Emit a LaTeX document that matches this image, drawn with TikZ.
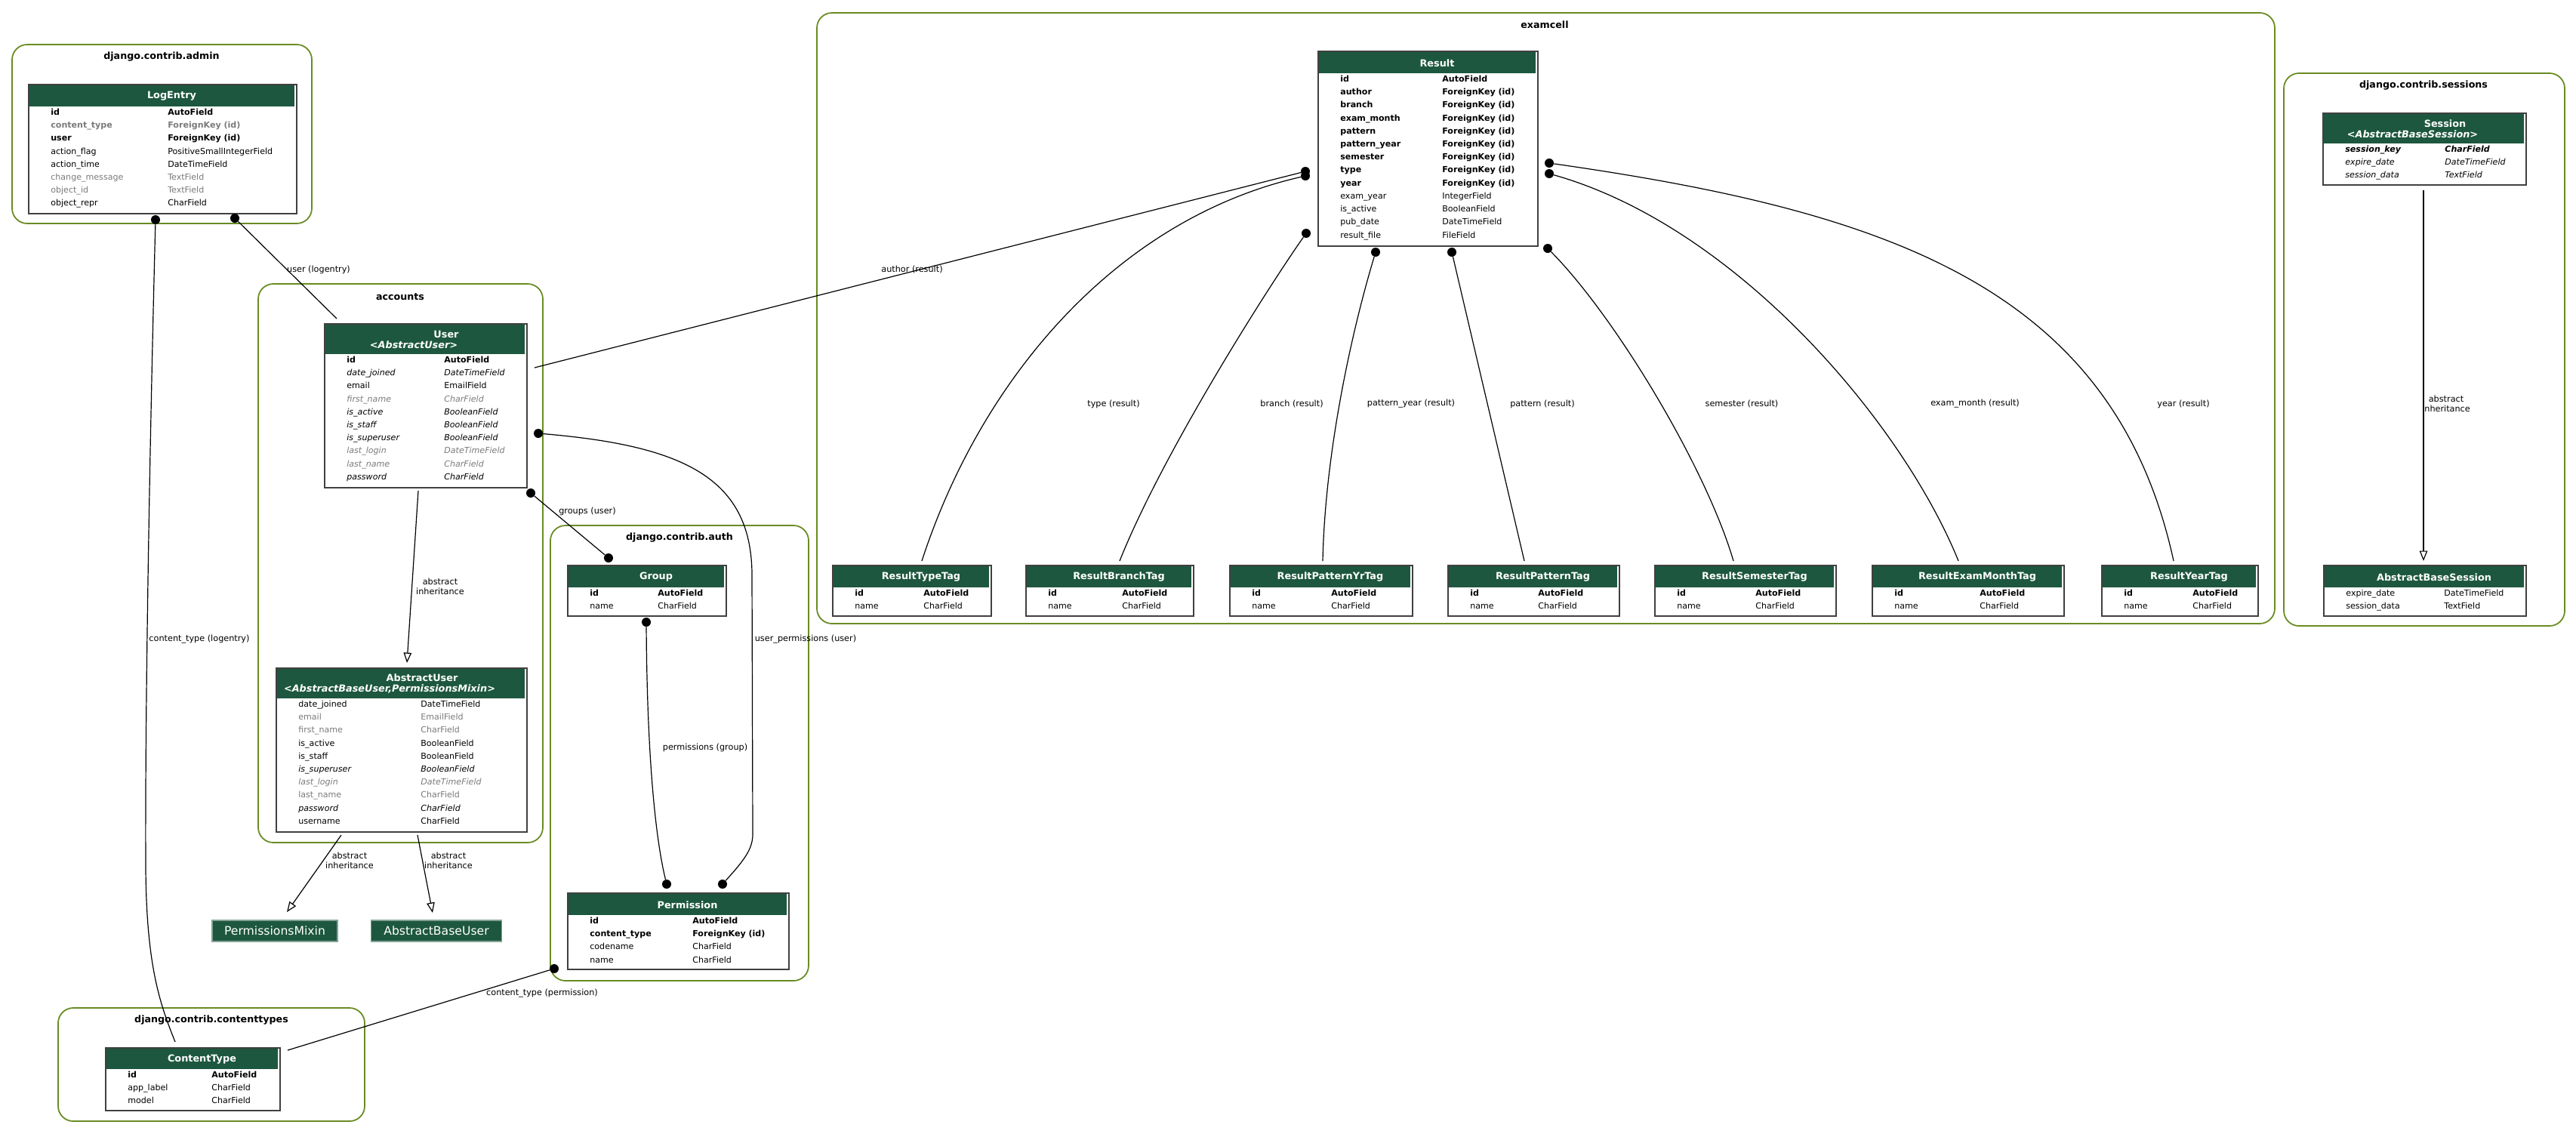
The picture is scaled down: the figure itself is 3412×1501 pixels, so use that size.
\documentclass[tikz,border=0pt]{standalone}
\usepackage{fontspec}
\setmainfont{DejaVu Sans}[BoldFont={DejaVu Sans Bold},ItalicFont={DejaVu Sans Oblique},BoldItalicFont={DejaVu Sans Bold Oblique}]
\usepackage{xcolor}
\usepackage{tikz}
\usetikzlibrary{arrows.meta, positioning}
\definecolor{hdrgreen}{RGB}{29,87,63}
\definecolor{clustergreen}{RGB}{105,139,34}
\definecolor{fldgray}{RGB}{123,123,123}

% field rows: bold, normal, italic, gray, gray italic, gray bold, bold italic
\newcommand{\fB}[2]{\textbf{#1} & \textbf{#2}\\}
\newcommand{\fN}[2]{#1 & #2\\}
\newcommand{\fI}[2]{\textit{#1} & \textit{#2}\\}
\newcommand{\fG}[2]{\textcolor{fldgray}{#1} & \textcolor{fldgray}{#2}\\}
\newcommand{\fGI}[2]{\textcolor{fldgray}{\textit{#1}} & \textcolor{fldgray}{\textit{#2}}\\}
\newcommand{\fGB}[2]{\textcolor{fldgray}{\textbf{#1}} & \textcolor{fldgray}{\textbf{#2}}\\}
\newcommand{\fBI}[2]{\textbf{\textit{#1}} & \textbf{\textit{#2}}\\}

% model table: name, x, y, width, header height, rows, type column offset, header, rows
\newcommand{\model}[9]{%
  \node[mframe, anchor=north west, minimum width=#4*0.2mm, minimum height={(#5+#6*17.35+2)*0.2mm}] (#1) at (#2,#3) {};
  \node[mhead, anchor=north, minimum width={(#4-4)*0.2mm}, minimum height={(#5-2)*0.2mm}] (#1-h) at ({#2+#4/2},{#3+2}) {#8};
  \node[mfields, anchor=north west] (#1-f) at ({#2+30},{#3+#5-1}) {\begin{tabular}{@{}p{\dimexpr 0.2mm*(#7-30)\relax}@{}l@{}}#9\end{tabular}};
}

\begin{document}
\begin{tikzpicture}[
  x=0.2mm, y=-0.2mm,
  cluster/.style={draw=clustergreen, line width=0.35mm, rounded corners=4mm},
  ctitle/.style={font=\fontsize{7.2}{8}\selectfont\bfseries, inner sep=0},
  mframe/.style={rectangle, draw=black!75, line width=0.4mm, fill=white, inner sep=0},
  mhead/.style={rectangle, fill=hdrgreen, text=white, align=center, inner sep=0, font=\fontsize{7.3}{7.9}\selectfont\bfseries},
  mfields/.style={inner sep=0, font=\fontsize{6.3}{9.8}\selectfont},
  basebox/.style={rectangle, fill=hdrgreen, draw=hdrgreen!55, line width=0.25mm, text=white, inner sep=0, minimum height=5.6mm, font=\fontsize{8.9}{10}\selectfont},
  fkdot/.style={circle, fill=black, inner sep=0, minimum size=2.4mm},
  rel/.style={line width=0.24mm},
  inh/.style={line width=0.24mm, -{Triangle[open, length=2.7mm, width=2.1mm]}},
  elbl/.style={font=\fontsize{6.4}{7.4}\selectfont, align=center, inner sep=0}
]
\fill[white] (0,0) rectangle (3412,1501);
\useasboundingbox (0,0) rectangle (3412,1501);

% clusters
\draw[cluster] (16,59) rectangle (413,296);
\node[ctitle] (t-admin) at (214,75) {django.contrib.admin};
\draw[cluster] (342,376) rectangle (719,1116);
\node[ctitle] (t-accounts) at (530,393) {accounts};
\draw[cluster] (729,696) rectangle (1071,1299);
\node[ctitle] (t-auth) at (900,712) {django.contrib.auth};
\draw[cluster] (77,1335) rectangle (483,1485);
\node[ctitle] (t-ctypes) at (280,1351) {django.contrib.contenttypes};
\draw[cluster] (1082,17) rectangle (3013,826);
\node[ctitle] (t-examcell) at (2046,33) {examcell};
\draw[cluster] (3025,97) rectangle (3397,829);
\node[ctitle] (t-sessions) at (3210,113) {django.contrib.sessions};

% models
\model{logentry}{37}{111}{355}{30}{8}{185}{\hspace*{5.2mm}LogEntry}{%
\fB{id}{AutoField}\fGB{content\_type}{ForeignKey (id)}\fB{user}{ForeignKey (id)}%
\fN{action\_flag}{PositiveSmallIntegerField}\fN{action\_time}{DateTimeField}%
\fG{change\_message}{TextField}\fG{object\_id}{TextField}\fN{object\_repr}{CharField}}

\model{user}{429}{428}{268}{41}{10}{159}{\hspace*{11.2mm}User\\\textit{<AbstractUser>}\hspace*{6mm}}{%
\fB{id}{AutoField}\fI{date\_joined}{DateTimeField}\fN{email}{EmailField}%
\fGI{first\_name}{CharField}\fI{is\_active}{BooleanField}\fI{is\_staff}{BooleanField}%
\fI{is\_superuser}{BooleanField}\fGI{last\_login}{DateTimeField}\fGI{last\_name}{CharField}%
\fI{password}{CharField}}

\model{abstractuser}{365}{884}{332}{41}{10}{192}{\hspace*{11.2mm}AbstractUser\\\textit{<AbstractBaseUser,PermissionsMixin>}\hspace*{6mm}}{%
\fN{date\_joined}{DateTimeField}\fG{email}{EmailField}\fG{first\_name}{CharField}%
\fN{is\_active}{BooleanField}\fN{is\_staff}{BooleanField}\fI{is\_superuser}{BooleanField}%
\fGI{last\_login}{DateTimeField}\fG{last\_name}{CharField}\fI{password}{CharField}%
\fN{username}{CharField}}

\node[basebox, minimum width=33.2mm] (permmixin) at (364,1233) {PermissionsMixin};
\node[basebox, minimum width=34.6mm] (absbaseuser) at (578,1233) {AbstractBaseUser};

\model{group}{751}{748}{210}{30}{2}{120}{\hspace*{5.2mm}Group}{%
\fB{id}{AutoField}\fN{name}{CharField}}

\model{permission}{751}{1182}{293}{30}{4}{166}{\hspace*{5.2mm}Permission}{%
\fB{id}{AutoField}\fB{content\_type}{ForeignKey (id)}\fN{codename}{CharField}\fN{name}{CharField}}

\model{contenttype}{139}{1387}{231}{29}{3}{141}{\hspace*{5.2mm}ContentType}{%
\fB{id}{AutoField}\fN{app\_label}{CharField}\fN{model}{CharField}}

\model{result}{1745}{67}{291}{30}{13}{165}{\hspace*{5.2mm}Result}{%
\fB{id}{AutoField}\fB{author}{ForeignKey (id)}\fB{branch}{ForeignKey (id)}%
\fB{exam\_month}{ForeignKey (id)}\fB{pattern}{ForeignKey (id)}\fB{pattern\_year}{ForeignKey (id)}%
\fB{semester}{ForeignKey (id)}\fB{type}{ForeignKey (id)}\fB{year}{ForeignKey (id)}%
\fN{exam\_year}{IntegerField}\fN{is\_active}{BooleanField}\fN{pub\_date}{DateTimeField}%
\fN{result\_file}{FileField}}

\model{typetag}{1102}{748}{210}{30}{2}{121}{\hspace*{5.2mm}ResultTypeTag}{\fB{id}{AutoField}\fN{name}{CharField}}
\model{branchtag}{1358}{748}{222}{30}{2}{128}{\hspace*{5.2mm}ResultBranchTag}{\fB{id}{AutoField}\fN{name}{CharField}}
\model{patternyrtag}{1628}{748}{242}{30}{2}{135}{\hspace*{5.2mm}ResultPatternYrTag}{\fB{id}{AutoField}\fN{name}{CharField}}
\model{patterntag}{1917}{748}{227}{30}{2}{120}{\hspace*{5.2mm}ResultPatternTag}{\fB{id}{AutoField}\fN{name}{CharField}}
\model{semestertag}{2191}{748}{240}{30}{2}{134}{\hspace*{5.2mm}ResultSemesterTag}{\fB{id}{AutoField}\fN{name}{CharField}}
\model{exammonthtag}{2479}{748}{254}{30}{2}{143}{\hspace*{5.2mm}ResultExamMonthTag}{\fB{id}{AutoField}\fN{name}{CharField}}
\model{yeartag}{2783}{748}{207}{30}{2}{121}{\hspace*{5.2mm}ResultYearTag}{\fB{id}{AutoField}\fN{name}{CharField}}

\model{session}{3076}{149}{269}{41}{3}{162}{\hspace*{11.2mm}Session\\\textit{<AbstractBaseSession>}\hspace*{6mm}}{%
\fBI{session\_key}{CharField}\fI{expire\_date}{DateTimeField}\fI{session\_data}{TextField}}

\model{absbasesession}{3077}{748}{268}{30}{2}{160}{\hspace*{5.2mm}AbstractBaseSession}{%
\fN{expire\_date}{DateTimeField}\fN{session\_data}{TextField}}

% foreign key dots
\node[fkdot] (d-le-ct) at (206,291) {};
\node[fkdot] (d-le-user) at (311,289) {};
\node[fkdot] (d-u-uperm) at (713,574) {};
\node[fkdot] (d-u-groups) at (703,653) {};
\node[fkdot] (d-g-groups) at (806,739) {};
\node[fkdot] (d-g-perm) at (856,824) {};
\node[fkdot] (d-p-perm) at (883,1171) {};
\node[fkdot] (d-p-uperm) at (957,1171) {};
\node[fkdot] (d-p-ct) at (734,1283) {};
\node[fkdot] (d-r-author) at (1729,227) {};
\node[fkdot] (d-r-type) at (1729,233) {};
\node[fkdot] (d-r-branch) at (1730,309) {};
\node[fkdot] (d-r-pyear) at (1822,334) {};
\node[fkdot] (d-r-pattern) at (1923,334) {};
\node[fkdot] (d-r-sem) at (2050,329) {};
\node[fkdot] (d-r-month) at (2052,230) {};
\node[fkdot] (d-r-year) at (2052,216) {};

% free edge ends
\coordinate (user-in) at (446,422);
\coordinate (user-east) at (708,487);
\coordinate (ct-top) at (232,1380);
\coordinate (ct-east) at (381,1391);
\coordinate (user-bot) at (554,650);
\coordinate (au-top) at (539,878);
\coordinate (au-bl) at (452,1106);
\coordinate (au-br) at (553,1106);
\coordinate (pm-top) at (380,1208);
\coordinate (abu-top) at (573,1209);
\coordinate (sess-bot) at (3210,252);
\coordinate (abs-top) at (3210,743);
\coordinate (tt-top) at (1221,743);
\coordinate (bt-top) at (1483,743);
\coordinate (pyt-top) at (1752,743);
\coordinate (pt-top) at (2019,743);
\coordinate (st-top) at (2296,743);
\coordinate (emt-top) at (2594,743);
\coordinate (yt-top) at (2879,743);

% relations
\draw[rel] (d-le-user) -- (user-in);
\draw[rel] (d-le-ct) .. controls (198,600) and (192,950) .. (193,1150) .. controls (194,1280) and (212,1330) .. (ct-top);
\draw[rel] (d-r-author) -- (user-east);
\draw[rel] (d-u-groups) -- (d-g-groups);
\draw[rel] (d-u-uperm) .. controls (900,590) and (995,630) .. (996,760) -- (997,1105) .. controls (997,1125) and (985,1140) .. (d-p-uperm);
\draw[rel] (d-g-perm) .. controls (857,1000) and (868,1110) .. (d-p-perm);
\draw[rel] (d-p-ct) -- (ct-east);
\draw[rel] (d-r-type) .. controls (1480,290) and (1300,500) .. (tt-top);
\draw[rel] (d-r-branch) .. controls (1680,380) and (1540,600) .. (bt-top);
\draw[rel] (d-r-pyear) .. controls (1790,440) and (1755,600) .. (pyt-top);
\draw[rel] (d-r-pattern) -- (pt-top);
\draw[rel] (d-r-sem) .. controls (2140,420) and (2260,620) .. (st-top);
\draw[rel] (d-r-month) .. controls (2300,300) and (2520,560) .. (emt-top);
\draw[rel] (d-r-year) .. controls (2500,280) and (2800,380) .. (yt-top);

% inheritance
\draw[inh] (user-bot) -- (au-top);
\draw[inh] (au-bl) -- (pm-top);
\draw[inh] (au-br) -- (abu-top);
\draw[inh] (sess-bot) -- (abs-top);

% edge labels
\node[elbl] (l-user) at (422,357) {user (logentry)};
\node[elbl] (l-ctle) at (264,847) {content\_type (logentry)};
\node[elbl] (l-author) at (1208,357) {author (result)};
\node[elbl] (l-groups) at (778,677) {groups (user)};
\node[elbl] (l-inh1) at (583,777) {abstract\\inheritance};
\node[elbl] (l-uperm) at (1067,847) {user\_permissions (user)};
\node[elbl] (l-perm) at (934,990) {permissions (group)};
\node[elbl] (l-inh2) at (463,1140) {abstract\\inheritance};
\node[elbl] (l-inh3) at (594,1140) {abstract\\inheritance};
\node[elbl] (l-ctperm) at (718,1316) {content\_type (permission)};
\node[elbl] (l-type) at (1475,535) {type (result)};
\node[elbl] (l-branch) at (1711,535) {branch (result)};
\node[elbl] (l-pyear) at (1869,535) {pattern\_year (result)};
\node[elbl] (l-pattern) at (2043,535) {pattern (result)};
\node[elbl] (l-sem) at (2307,535) {semester (result)};
\node[elbl] (l-month) at (2616,535) {exam\_month (result)};
\node[elbl] (l-year) at (2892,535) {year (result)};
\node[elbl] (l-inh4) at (3240,535) {abstract\\inheritance};
\end{tikzpicture}
\end{document}
